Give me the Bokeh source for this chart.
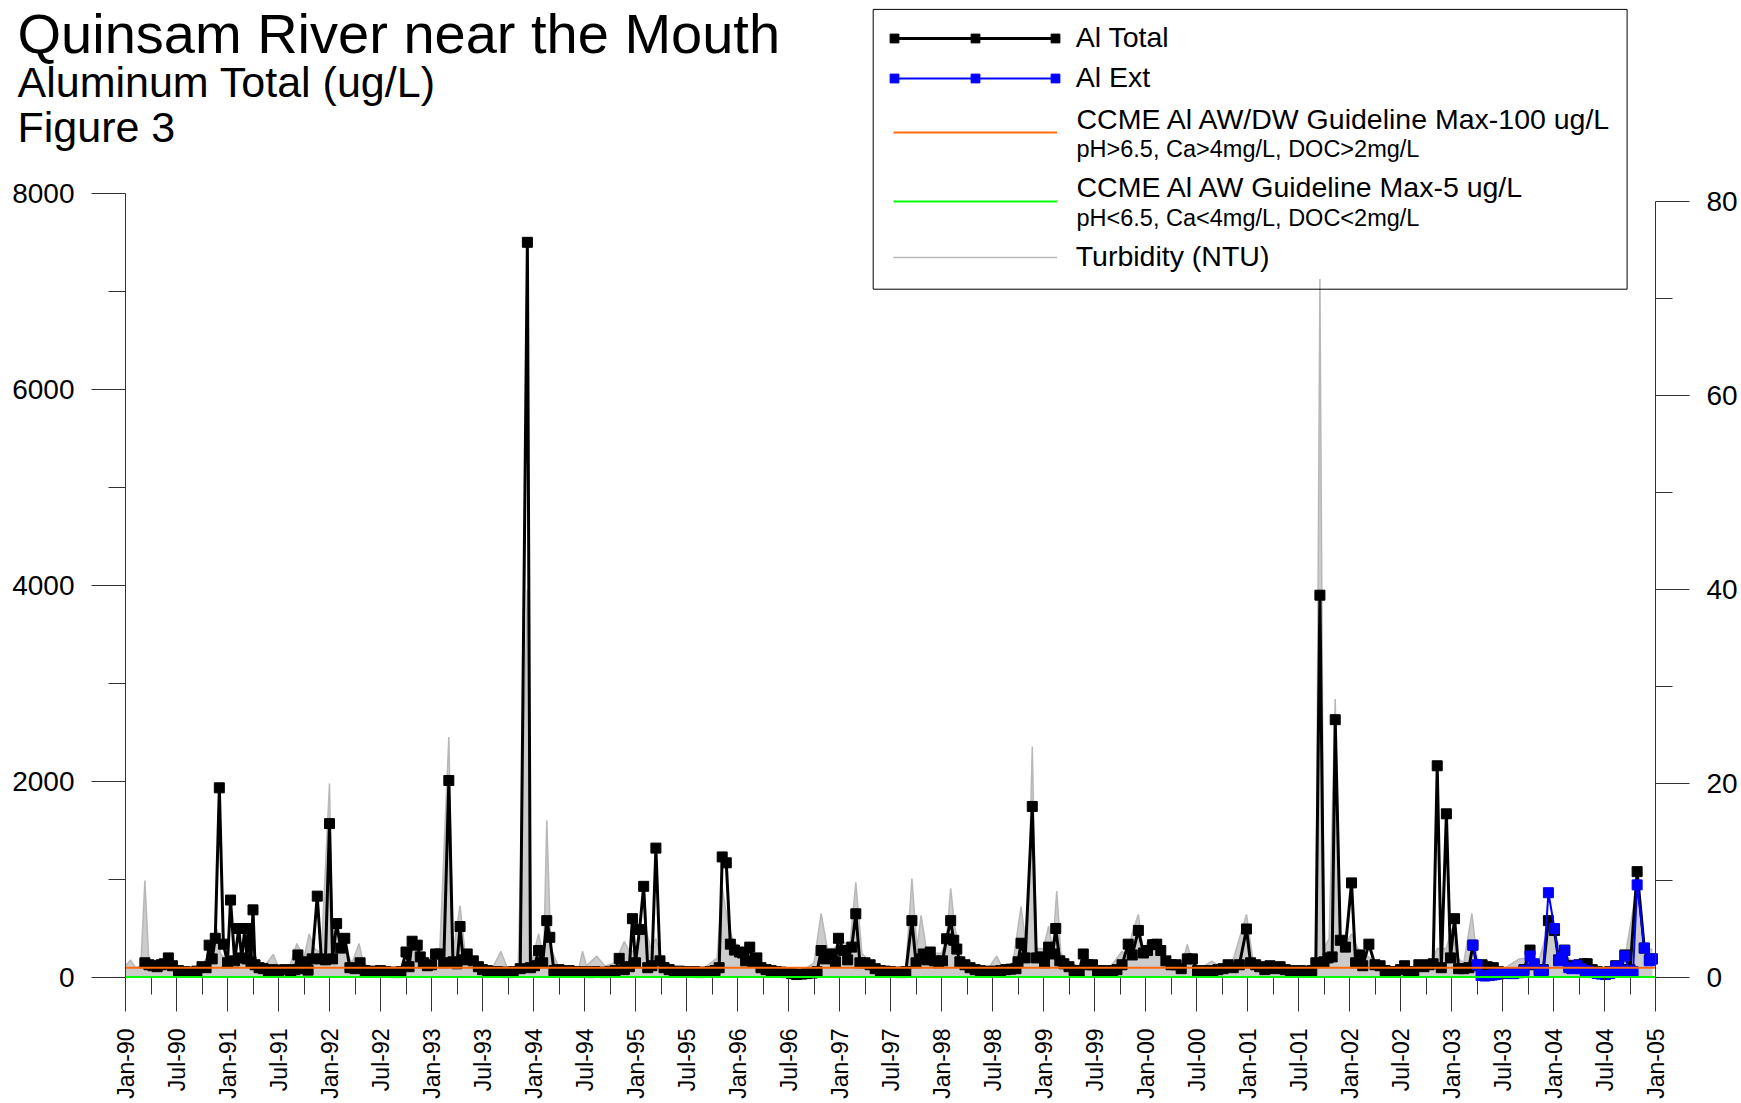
import math
from bokeh.plotting import figure
from bokeh.models import (Range1d, LinearAxis, FixedTicker, Legend, LegendItem,
                          Label, BoxAnnotation)
from bokeh.embed import file_html
from bokeh.resources import INLINE

FONT = "Liberation Sans"

# ---------------- data (decimal year, value) ----------------
al_total_obs = [
    (1990.19, 150), (1990.23, 130), (1990.27, 120), (1990.31, 110), (1990.35, 130), (1990.38, 140),
    (1990.42, 200), (1990.46, 120), (1990.52, 70), (1990.58, 60), (1990.64, 55), (1990.70, 65),
    (1990.75, 110), (1990.79, 100), (1990.82, 330), (1990.85, 190), (1990.88, 400), (1990.92, 1935),
    (1990.96, 340),
    (1991.00, 150), (1991.03, 790), (1991.07, 170), (1991.11, 500), (1991.14, 200), (1991.17, 500),
    (1991.19, 190), (1991.21, 500), (1991.23, 160), (1991.25, 690), (1991.27, 130), (1991.31, 100),
    (1991.35, 90), (1991.40, 70), (1991.45, 80), (1991.50, 70), (1991.56, 80), (1991.62, 60),
    (1991.66, 80), (1991.69, 230), (1991.73, 160), (1991.76, 90), (1991.79, 75), (1991.83, 190),
    (1991.88, 830), (1991.92, 190), (1991.96, 180),
    (1992.00, 1570), (1992.03, 190), (1992.07, 550), (1992.11, 300), (1992.15, 400), (1992.20, 100),
    (1992.25, 90), (1992.30, 150), (1992.35, 70), (1992.40, 60), (1992.45, 65), (1992.50, 70),
    (1992.55, 60), (1992.60, 55), (1992.65, 50), (1992.70, 60), (1992.75, 260), (1992.78, 110),
    (1992.81, 370), (1992.86, 330), (1992.89, 210), (1992.92, 150), (1992.96, 120),
    (1993.00, 130), (1993.04, 240), (1993.08, 240), (1993.12, 150), (1993.17, 2010), (1993.21, 160),
    (1993.25, 140), (1993.28, 520), (1993.31, 180), (1993.35, 240), (1993.41, 170), (1993.46, 110),
    (1993.50, 80), (1993.55, 70), (1993.60, 60), (1993.65, 60), (1993.70, 55), (1993.75, 50),
    (1993.80, 60), (1993.87, 90), (1993.94, 7500), (1993.97, 100),
    (1994.01, 120), (1994.05, 275), (1994.09, 150), (1994.13, 580), (1994.16, 410), (1994.20, 70),
    (1994.25, 80), (1994.30, 60), (1994.35, 70), (1994.40, 60), (1994.45, 55), (1994.50, 60),
    (1994.55, 50), (1994.60, 60), (1994.65, 55), (1994.70, 50), (1994.75, 60), (1994.80, 70),
    (1994.84, 195), (1994.89, 80), (1994.94, 110), (1994.97, 600),
    (1995.00, 150), (1995.04, 490), (1995.08, 930), (1995.12, 100), (1995.16, 120), (1995.20, 1320),
    (1995.24, 170), (1995.28, 100), (1995.33, 80), (1995.38, 60), (1995.43, 65), (1995.48, 60),
    (1995.53, 55), (1995.58, 60), (1995.63, 50), (1995.68, 55), (1995.73, 60), (1995.78, 70),
    (1995.82, 100), (1995.85, 1230), (1995.89, 1170), (1995.93, 340), (1995.97, 280),
    (1996.02, 260), (1996.05, 250), (1996.08, 170), (1996.12, 310), (1996.15, 160), (1996.19, 200),
    (1996.23, 100), (1996.28, 80), (1996.33, 70), (1996.38, 60), (1996.43, 55), (1996.48, 50),
    (1996.53, 40), (1996.58, 30), (1996.63, 35), (1996.68, 40), (1996.73, 45), (1996.78, 60),
    (1996.82, 275), (1996.86, 190), (1996.89, 200), (1996.92, 240), (1996.96, 160), (1996.99, 400),
    (1997.04, 275), (1997.08, 180), (1997.12, 310), (1997.16, 650), (1997.20, 150), (1997.25, 150),
    (1997.30, 130), (1997.35, 90), (1997.40, 70), (1997.45, 65), (1997.50, 60), (1997.55, 55),
    (1997.60, 50), (1997.65, 60), (1997.71, 580), (1997.75, 150), (1997.79, 190), (1997.82, 240),
    (1997.86, 180), (1997.89, 260), (1997.93, 170), (1997.97, 150),
    (1998.01, 170), (1998.05, 395), (1998.09, 580), (1998.12, 380), (1998.15, 290), (1998.18, 160),
    (1998.23, 130), (1998.28, 100), (1998.33, 80), (1998.38, 70), (1998.43, 60), (1998.48, 65),
    (1998.53, 60), (1998.58, 70), (1998.63, 80), (1998.68, 85), (1998.73, 90), (1998.75, 160),
    (1998.78, 350), (1998.82, 200), (1998.89, 1745), (1998.93, 200), (1998.97, 210),
    (1999.01, 150), (1999.05, 310), (1999.09, 240), (1999.12, 500), (1999.16, 170), (1999.20, 140),
    (1999.25, 110), (1999.30, 70), (1999.35, 65), (1999.39, 240), (1999.43, 130), (1999.48, 130),
    (1999.53, 70), (1999.58, 70), (1999.63, 60), (1999.68, 70), (1999.72, 80), (1999.77, 130),
    (1999.83, 340), (1999.87, 230), (1999.93, 480), (1999.98, 250),
    (2000.02, 275), (2000.07, 335), (2000.11, 340), (2000.15, 275), (2000.20, 170), (2000.25, 130),
    (2000.30, 130), (2000.35, 90), (2000.41, 190), (2000.46, 190), (2000.51, 70), (2000.56, 60),
    (2000.61, 70), (2000.66, 60), (2000.71, 80), (2000.76, 90), (2000.81, 130), (2000.86, 100),
    (2000.92, 130), (2000.99, 495),
    (2001.03, 150), (2001.08, 130), (2001.12, 110), (2001.17, 80), (2001.22, 120), (2001.27, 90),
    (2001.32, 110), (2001.37, 80), (2001.42, 70), (2001.47, 60), (2001.52, 70), (2001.57, 60),
    (2001.63, 70), (2001.67, 150), (2001.71, 3900), (2001.75, 160), (2001.79, 200), (2001.83, 210),
    (2001.86, 2630), (2001.91, 380), (2001.96, 310),
    (2002.02, 965), (2002.06, 150), (2002.10, 230), (2002.13, 120), (2002.19, 340), (2002.25, 130),
    (2002.30, 120), (2002.35, 70), (2002.40, 60), (2002.45, 60), (2002.50, 80), (2002.54, 120),
    (2002.58, 60), (2002.63, 60), (2002.68, 130), (2002.73, 110), (2002.78, 130), (2002.82, 140),
    (2002.86, 2160), (2002.90, 100), (2002.95, 1670), (2002.99, 200),
    (2003.03, 600), (2003.07, 90), (2003.12, 90), (2003.17, 100), (2003.21, 330), (2003.25, 120),
    (2003.30, 130), (2003.35, 110), (2003.41, 100), (2003.46, 60), (2003.53, 50), (2003.60, 40),
    (2003.66, 50), (2003.71, 80), (2003.77, 280), (2003.81, 130), (2003.86, 80), (2003.90, 80),
    (2003.95, 580),
    (2004.01, 480), (2004.05, 180), (2004.11, 280), (2004.15, 120), (2004.20, 100), (2004.25, 130),
    (2004.30, 140), (2004.33, 140), (2004.38, 80), (2004.43, 60), (2004.50, 50), (2004.55, 60),
    (2004.61, 120), (2004.66, 80), (2004.70, 230), (2004.75, 80), (2004.82, 1080), (2004.89, 300),
    (2004.94, 180), (2004.97, 190),
]

al_ext_obs = [
    (2003.21, 330), (2003.25, 130), (2003.29, 20), (2003.33, 15), (2003.37, 20), (2003.40, 25),
    (2003.43, 30), (2003.46, 35), (2003.50, 40), (2003.53, 50), (2003.57, 45), (2003.61, 40),
    (2003.66, 50), (2003.71, 70), (2003.77, 220), (2003.81, 140), (2003.86, 60), (2003.90, 70),
    (2003.95, 865), (2004.01, 500), (2004.05, 170), (2004.08, 200), (2004.11, 275), (2004.15, 100),
    (2004.18, 90), (2004.23, 125), (2004.27, 90), (2004.31, 70), (2004.35, 60), (2004.39, 50),
    (2004.43, 40), (2004.47, 35), (2004.51, 30), (2004.55, 40), (2004.58, 60), (2004.61, 115),
    (2004.65, 70), (2004.70, 220), (2004.74, 70), (2004.78, 60), (2004.82, 945), (2004.89, 300),
    (2004.94, 170), (2004.97, 190),
]

turbidity_obs = [
    (1990.00, 1.2), (1990.05, 1.8), (1990.10, 1.0), (1990.15, 1.2), (1990.19, 10.0), (1990.23, 1.5),
    (1990.30, 1.0), (1990.40, 1.0), (1990.50, 0.8), (1990.60, 0.6), (1990.70, 0.8), (1990.80, 2.0),
    (1990.85, 3.0), (1990.90, 5.0), (1990.93, 2.5), (1991.00, 1.5), (1991.05, 2.0), (1991.10, 1.5),
    (1991.20, 2.0), (1991.28, 1.5), (1991.35, 1.0), (1991.45, 2.4), (1991.50, 1.0), (1991.60, 0.8),
    (1991.68, 3.5), (1991.75, 2.0), (1991.80, 4.5), (1991.85, 3.0), (1991.92, 2.5), (1992.00, 20.0),
    (1992.03, 3.0), (1992.07, 4.5), (1992.12, 3.5), (1992.17, 2.5), (1992.22, 1.5), (1992.29, 3.5),
    (1992.33, 1.5), (1992.40, 1.0), (1992.50, 0.8), (1992.60, 0.6), (1992.70, 1.0), (1992.75, 2.5),
    (1992.81, 4.0), (1992.86, 3.0), (1992.92, 2.0), (1993.00, 2.0), (1993.08, 2.5), (1993.17, 24.8),
    (1993.21, 2.5), (1993.28, 7.4), (1993.33, 2.5), (1993.40, 1.5), (1993.50, 1.0), (1993.60, 1.0),
    (1993.68, 2.7), (1993.75, 0.8), (1993.85, 1.0), (1993.94, 40.0), (1993.98, 1.5), (1994.05, 4.5),
    (1994.10, 2.0), (1994.13, 16.2), (1994.17, 3.0), (1994.25, 1.0), (1994.35, 0.8), (1994.45, 1.2),
    (1994.48, 2.7), (1994.52, 1.2), (1994.62, 2.2), (1994.70, 1.2), (1994.80, 1.5), (1994.89, 3.7),
    (1994.95, 2.5), (1995.00, 3.0), (1995.05, 4.0), (1995.10, 5.0), (1995.15, 3.0), (1995.20, 4.0),
    (1995.25, 2.0), (1995.35, 1.0), (1995.50, 0.8), (1995.65, 0.8), (1995.80, 2.0), (1995.85, 9.3),
    (1995.90, 6.0), (1995.95, 4.0), (1996.02, 3.0), (1996.08, 2.5), (1996.15, 2.5), (1996.22, 1.5),
    (1996.35, 1.0), (1996.50, 0.6), (1996.65, 0.8), (1996.75, 1.5), (1996.82, 6.6), (1996.88, 3.0),
    (1996.95, 3.0), (1997.02, 4.0), (1997.10, 3.0), (1997.16, 9.8), (1997.22, 2.5), (1997.35, 1.0),
    (1997.50, 0.8), (1997.65, 1.0), (1997.71, 10.2), (1997.76, 3.0), (1997.80, 6.4), (1997.85, 3.0),
    (1997.92, 2.5), (1998.00, 2.5), (1998.05, 4.0), (1998.09, 9.2), (1998.13, 5.2), (1998.20, 2.0),
    (1998.30, 1.0), (1998.45, 0.8), (1998.54, 2.2), (1998.60, 1.0), (1998.70, 1.5), (1998.78, 7.3),
    (1998.84, 2.5), (1998.89, 23.8), (1998.93, 3.0), (1999.00, 3.0), (1999.05, 5.3), (1999.09, 3.0),
    (1999.13, 8.9), (1999.17, 2.5), (1999.25, 1.5), (1999.35, 1.2), (1999.45, 1.5), (1999.55, 1.0),
    (1999.65, 1.0), (1999.77, 2.7), (1999.82, 2.0), (1999.87, 4.6), (1999.93, 6.5), (1999.98, 2.5),
    (2000.02, 3.7), (2000.07, 3.0), (2000.11, 4.0), (2000.16, 2.5), (2000.25, 1.5), (2000.35, 1.0),
    (2000.41, 3.4), (2000.46, 1.5), (2000.55, 1.0), (2000.65, 1.7), (2000.75, 1.0), (2000.85, 1.5),
    (2000.99, 6.5), (2001.05, 2.0), (2001.15, 1.2), (2001.30, 1.5), (2001.45, 0.8), (2001.60, 0.8),
    (2001.67, 1.5), (2001.71, 72.0), (2001.75, 3.0), (2001.80, 4.0), (2001.86, 28.7), (2001.91, 4.0),
    (2001.96, 3.5), (2002.02, 4.5), (2002.08, 3.0), (2002.15, 2.5), (2002.25, 1.5), (2002.35, 1.0),
    (2002.50, 0.8), (2002.65, 1.0), (2002.80, 1.5), (2002.86, 3.0), (2002.95, 3.0), (2003.00, 5.0),
    (2003.06, 2.0), (2003.12, 1.5), (2003.20, 6.6), (2003.25, 2.0), (2003.35, 1.0), (2003.50, 0.8),
    (2003.66, 1.9), (2003.75, 2.0), (2003.85, 1.5), (2003.95, 5.2), (2004.02, 4.0), (2004.10, 2.5),
    (2004.20, 1.5), (2004.35, 1.0), (2004.50, 0.6), (2004.62, 1.0), (2004.70, 2.0), (2004.82, 9.5),
    (2004.89, 3.0), (2004.97, 2.9),
]

guide_year = [1990.0, 2005.0]
guide_awdw = [100, 100]   # CCME AW/DW max 100 ug/L
guide_aw = [5, 5]         # CCME AW max 5 ug/L

left_ticks = [0, 2000, 4000, 6000, 8000]
left_minor = [1000, 3000, 5000, 7000]
right_ticks = [0, 20, 40, 60, 80]
right_minor = [10, 30, 50, 70]

x_tick_values = [1990.0, 1990.5, 1991.0, 1991.5, 1992.0, 1992.5, 1993.0, 1993.5, 1994.0, 1994.5,
                 1995.0, 1995.5, 1996.0, 1996.5, 1997.0, 1997.5, 1998.0, 1998.5, 1999.0, 1999.5,
                 2000.0, 2000.5, 2001.0, 2001.5, 2002.0, 2002.5, 2003.0, 2003.5, 2004.0, 2004.5, 2005.0]
x_tick_labels = ["Jan-90", "Jul-90", "Jan-91", "Jul-91", "Jan-92", "Jul-92", "Jan-93", "Jul-93",
                 "Jan-94", "Jul-94", "Jan-95", "Jul-95", "Jan-96", "Jul-96", "Jan-97", "Jul-97",
                 "Jan-98", "Jul-98", "Jan-99", "Jul-99", "Jan-00", "Jul-00", "Jan-01", "Jul-01",
                 "Jan-02", "Jul-02", "Jan-03", "Jul-03", "Jan-04", "Jul-04", "Jan-05"]
x_minor_values = [v + 0.25 for v in x_tick_values[:-1]]

al_total_year = [a for a, b in al_total_obs]
al_total_ugL = [b for a, b in al_total_obs]
al_ext_year = [a for a, b in al_ext_obs]
al_ext_ugL = [b for a, b in al_ext_obs]
turb_year = [a for a, b in turbidity_obs]
turb_ntu = [b for a, b in turbidity_obs]

# ---------------- geometry (page pixels) ----------------
CANVAS_W, CANVAS_H = 1739, 1101
AXIS_LEFT_PX = 125.0      # page x of Jan-90 / left axis
AXIS_RIGHT_PX = 1655.0    # page x of Jan-05 / right axis
ZERO_PX = 977.0           # page y of value 0
TOP_LEFT_PX = 192.8       # page y of 8000
TOP_RIGHT_PX = 201.0      # page y of 80 NTU

px_per_year = (AXIS_RIGHT_PX - AXIS_LEFT_PX) / 15.0
x_start = 1990.0 - AXIS_LEFT_PX / px_per_year
x_end = 2005.0 + (CANVAS_W - AXIS_RIGHT_PX) / px_per_year
px_per_ug = (ZERO_PX - TOP_LEFT_PX) / 8000.0
px_per_ntu = (ZERO_PX - TOP_RIGHT_PX) / 80.0
y_start = -(CANVAS_H - ZERO_PX) / px_per_ug
y_end = ZERO_PX / px_per_ug
turb_start = -(CANVAS_H - ZERO_PX) / px_per_ntu
turb_end = ZERO_PX / px_per_ntu

# the frame spans the whole canvas; the axes are pinned at Jan-90 / Jan-05 / zero
p = figure(frame_width=CANVAS_W, frame_height=CANVAS_H,
           x_range=Range1d(x_start, x_end), y_range=Range1d(y_start, y_end),
           output_backend="svg", toolbar_location=None, tools="",
           min_border_left=0, min_border_right=0, min_border_top=0, min_border_bottom=0,
           outline_line_color=None, background_fill_color="white", border_fill_color="white")
p.extra_y_ranges = {"turb": Range1d(turb_start, turb_end)}
p.xgrid.visible = False
p.ygrid.visible = False

turb_area = p.varea(x=turb_year, y1=0, y2=turb_ntu, y_range_name="turb", fill_color="#cccccc")
turb_line = p.line(turb_year, turb_ntu, y_range_name="turb", line_color="#b8b8b8", line_width=1.5)

tot_line = p.line(al_total_year, al_total_ugL, line_color="black", line_width=3)
tot_pts = p.scatter(al_total_year, al_total_ugL, marker="square", size=10, color="black")

ext_line = p.line(al_ext_year, al_ext_ugL, line_color="#0000ff", line_width=2)
ext_pts = p.scatter(al_ext_year, al_ext_ugL, marker="square", size=10, color="#0000ff")

awdw_line = p.line(guide_year, guide_awdw, line_color="#ff6a10", line_width=2)
aw_line = p.line(guide_year, guide_aw, line_color="#00ff00", line_width=2)

AX = "#333333"


def style_axis(ax, standoff, font_size):
    ax.major_tick_line_color = AX
    ax.minor_tick_line_color = AX
    ax.major_tick_out = 34
    ax.major_tick_in = 0
    ax.minor_tick_out = 17
    ax.minor_tick_in = 0
    ax.major_label_standoff = standoff
    ax.major_label_text_font = FONT
    ax.major_label_text_font_size = font_size
    ax.major_label_text_color = "black"


# left axis pinned at Jan-90
yl = p.yaxis[0]
yl.fixed_location = 1990.0
yl.ticker = FixedTicker(ticks=left_ticks, minor_ticks=left_minor)
yl.bounds = (0, 8000)
yl.axis_line_color = AX
style_axis(yl, 17, "28px")

# right axis pinned at Jan-05
yr = LinearAxis(y_range_name="turb", ticker=FixedTicker(ticks=right_ticks, minor_ticks=right_minor),
                bounds=(0, 80), fixed_location=2005.0)
yr.axis_line_color = AX
style_axis(yr, 17, "28px")
p.add_layout(yr, "right")

# x axis pinned at zero
xa = p.xaxis[0]
xa.fixed_location = 0
xa.ticker = FixedTicker(ticks=x_tick_values, minor_ticks=x_minor_values)
xa.bounds = (1990.0, 2005.0)
xa.major_label_overrides = dict(zip(x_tick_values, x_tick_labels))
xa.major_label_orientation = math.pi / 2
xa.axis_line_color = None
style_axis(xa, 17, "23px")

# ---------------- titles ----------------
# screen units are relative to the frame (origin bottom-left); frame == canvas
def sx(page_x):
    return page_x


def sy(page_y):
    return CANVAS_H - page_y


for txt, px, py, fs in [("Quinsam River near the Mouth", 17, 32.5, "56px"),
                        ("Aluminum Total (ug/L)", 17, 81.0, "43px"),
                        ("Figure 3", 17, 126.6, "43px")]:
    p.add_layout(Label(x=sx(px), y=sy(py), x_units="screen", y_units="screen", text=txt,
                       text_font=FONT, text_font_size=fs, text_baseline="middle",
                       text_align="left", text_color="black"))

# ---------------- legend ----------------
def add_legend(items, page_left, page_cy, gw, gh, fs, standoff):
    lg = Legend(items=items, location=(sx(page_left), sy(page_cy) - gh / 2),
                glyph_width=gw, glyph_height=gh, label_height=gh, label_width=1,
                label_standoff=standoff, label_text_font=FONT, label_text_font_size=fs,
                label_text_color="black", padding=0, margin=0, spacing=0,
                border_line_color=None, background_fill_alpha=0)
    p.add_layout(lg, "center")


LX = 892.7
add_legend([LegendItem(label="Al Total", renderers=[tot_line])], LX, 37.7, 164, 34, "28.5px", 19)
add_legend([LegendItem(label="Al Ext", renderers=[ext_line])], LX, 77.7, 164, 34, "28.5px", 19)
add_legend([LegendItem(label=" ", renderers=[awdw_line])], LX, 132.1, 164, 34, "28.5px", 19)
add_legend([LegendItem(label=" ", renderers=[aw_line])], LX, 201.0, 164, 34, "28.5px", 19)
add_legend([LegendItem(label="Turbidity (NTU)", renderers=[turb_line])], LX, 256.5, 164, 34, "28.5px", 19)
for cx in (894, 975, 1055):
    add_legend([LegendItem(label=" ", renderers=[tot_pts])], cx - 11, 37.7, 22, 22, "1px", 0)
    add_legend([LegendItem(label=" ", renderers=[ext_pts])], cx - 11, 77.7, 22, 22, "1px", 0)

for txt, py, fs in [("CCME Al AW/DW Guideline Max-100 ug/L", 118.8, "28.5px"),
                    ("pH>6.5, Ca>4mg/L, DOC>2mg/L", 148.8, "23.5px"),
                    ("CCME Al AW Guideline Max-5 ug/L", 186.5, "28.5px"),
                    ("pH<6.5, Ca<4mg/L, DOC<2mg/L", 217.6, "23.5px")]:
    p.add_layout(Label(x=sx(1076), y=sy(py), x_units="screen", y_units="screen", text=txt,
                       text_font=FONT, text_font_size=fs, text_baseline="middle",
                       text_align="left", text_color="black"))

box = BoxAnnotation(left=sx(872.7), right=sx(1626.6), top=sy(8.9), bottom=sy(288.7),
                    left_units="screen", right_units="screen", top_units="screen", bottom_units="screen",
                    fill_alpha=0, line_color="black", line_alpha=1, line_width=1)
p.add_layout(box)

open("out.html", "w").write(file_html(p, INLINE))
